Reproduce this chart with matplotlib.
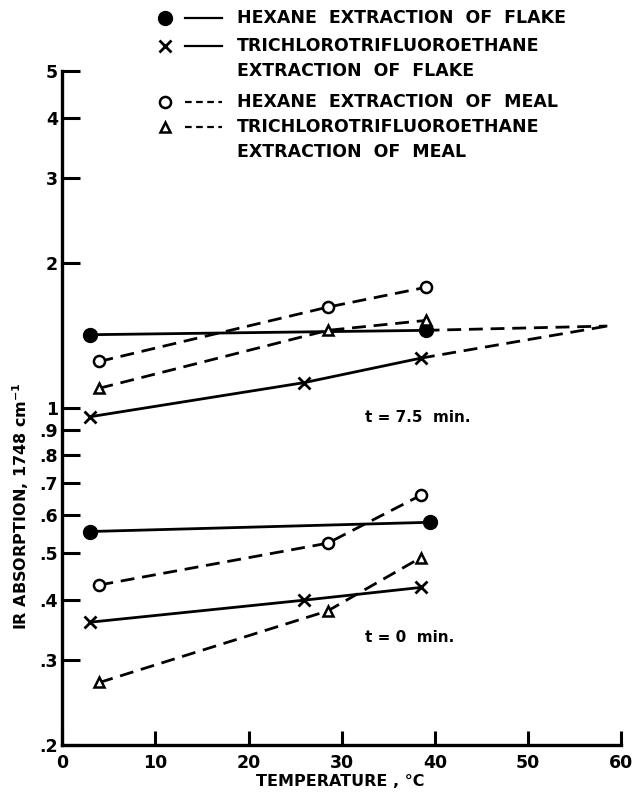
import matplotlib
matplotlib.use("Agg")
import matplotlib.pyplot as plt
from matplotlib.lines import Line2D

plt.rcParams['font.family'] = ['DejaVu Sans']
plt.rcParams['font.weight'] = 'bold'
plt.rcParams['axes.labelweight'] = 'bold'

# t = 7.5 min
hex_flake_75_x = [3, 39]
hex_flake_75_y = [1.42, 1.45]
tri_flake_75_x = [3, 26, 38.5]
tri_flake_75_y = [0.96, 1.13, 1.27]
hex_meal_75_x = [4, 28.5, 39]
hex_meal_75_y = [1.25, 1.62, 1.78]
tri_meal_75_x = [4, 28.5, 39]
tri_meal_75_y = [1.10, 1.45, 1.52]
# extrapolated dashed lines to common point
extrap_x = [[39, 58.5], [38.5, 58.5]]
extrap_y = [[1.45, 1.48], [1.27, 1.48]]

# t = 0 min
hex_flake_0_x = [3, 39.5]
hex_flake_0_y = [0.555, 0.58]
tri_flake_0_x = [3, 26, 38.5]
tri_flake_0_y = [0.36, 0.40, 0.425]
hex_meal_0_x = [4, 28.5, 38.5]
hex_meal_0_y = [0.43, 0.525, 0.66]
tri_meal_0_x = [4, 28.5, 38.5]
tri_meal_0_y = [0.27, 0.38, 0.49]

yticks = [0.2, 0.3, 0.4, 0.5, 0.6, 0.7, 0.8, 0.9, 1, 2, 3, 4, 5]
ylabels = ['.2', '.3', '.4', '.5', '.6', '.7', '.8', '.9', '1', '2', '3', '4', '5']
xticks = [0, 10, 20, 30, 40, 50, 60]

fig = plt.figure(figsize=(6.34, 7.98), dpi=100)
ax = fig.add_axes([0.098, 0.066, 0.882, 0.845])

lw = 2.0
dash = (0, (5, 2.8))
solid_kw = dict(color='black', lw=lw)
dash_kw = dict(color='black', lw=lw, linestyle=dash)

def draw(x, y, marker, kw, **mk):
    ax.plot(x, y, **kw, zorder=2)
    ax.plot(x, y, linestyle='none', marker=marker, color='black', zorder=3, **mk)

filled = dict(markersize=10, markerfacecolor='black')
xmark = dict(markersize=8, markeredgewidth=2)
openc = dict(markersize=8, markerfacecolor='white', markeredgewidth=1.8)
tri = dict(markersize=7, markerfacecolor='white', markeredgewidth=1.8)

for xs, ys in zip(extrap_x, extrap_y):
    ax.plot(xs, ys, **dash_kw, zorder=2)

draw(hex_flake_75_x, hex_flake_75_y, 'o', solid_kw, **filled)
draw(tri_flake_75_x, tri_flake_75_y, 'x', solid_kw, **xmark)
draw(hex_meal_75_x, hex_meal_75_y, 'o', dash_kw, **openc)
draw(tri_meal_75_x, tri_meal_75_y, '^', dash_kw, **tri)

draw(hex_flake_0_x, hex_flake_0_y, 'o', solid_kw, **filled)
draw(tri_flake_0_x, tri_flake_0_y, 'x', solid_kw, **xmark)
draw(hex_meal_0_x, hex_meal_0_y, 'o', dash_kw, **openc)
draw(tri_meal_0_x, tri_meal_0_y, '^', dash_kw, **tri)

ax.text(32.5, 0.955, 't = 7.5  min.', fontsize=11, va='center')
ax.text(32.5, 0.335, 't = 0  min.', fontsize=11, va='center')

ax.set_yscale('log')
ax.set_ylim(0.2, 5)
ax.set_xlim(0, 60)
ax.set_yticks(yticks)
ax.set_yticklabels(ylabels)
ax.minorticks_off()
ax.set_xticks(xticks)
ax.tick_params(direction='in', length=10, width=2.2, labelsize=12.5)
ax.tick_params(axis='y', length=13, pad=3)
ax.tick_params(axis='x', pad=6)
for s in ['top', 'right']:
    ax.spines[s].set_visible(False)
for s in ['left', 'bottom']:
    ax.spines[s].set_linewidth(2.4)
ax.set_xlabel('TEMPERATURE , °C', fontsize=11.5)
ax.xaxis.set_label_coords(0.497, -0.042)
ax.set_ylabel('IR ABSORPTION, 1748 cm$^{\\mathbf{-1}}$', fontsize=11.5)
ax.yaxis.set_label_coords(-0.055, 0.355)

# legend drawn by hand
W, H = 634, 798
rows = [
    (18, 'o', filled, '-', ['HEXANE  EXTRACTION  OF  FLAKE']),
    (46, 'x', xmark, '-', ['TRICHLOROTRIFLUOROETHANE', 'EXTRACTION  OF  FLAKE']),
    (102, 'o', openc, '--', ['HEXANE  EXTRACTION  OF  MEAL']),
    (127, '^', tri, '--', ['TRICHLOROTRIFLUOROETHANE', 'EXTRACTION  OF  MEAL']),
]
for ypix, m, mk, ls, lines in rows:
    yf = 1 - ypix / H
    fig.add_artist(Line2D([165 / W], [yf], marker=m, color='black', linestyle='none', **mk))
    st = '-' if ls == '-' else (0, (3, 2))
    fig.add_artist(Line2D([185 / W, 222 / W], [yf, yf], color='black', lw=1.6, linestyle=st))
    for i, txt in enumerate(lines):
        fig.text(237 / W, 1 - (ypix + 25 * i) / H, txt, fontsize=12.5, va='center')

fig.savefig('out.png', dpi=100)
